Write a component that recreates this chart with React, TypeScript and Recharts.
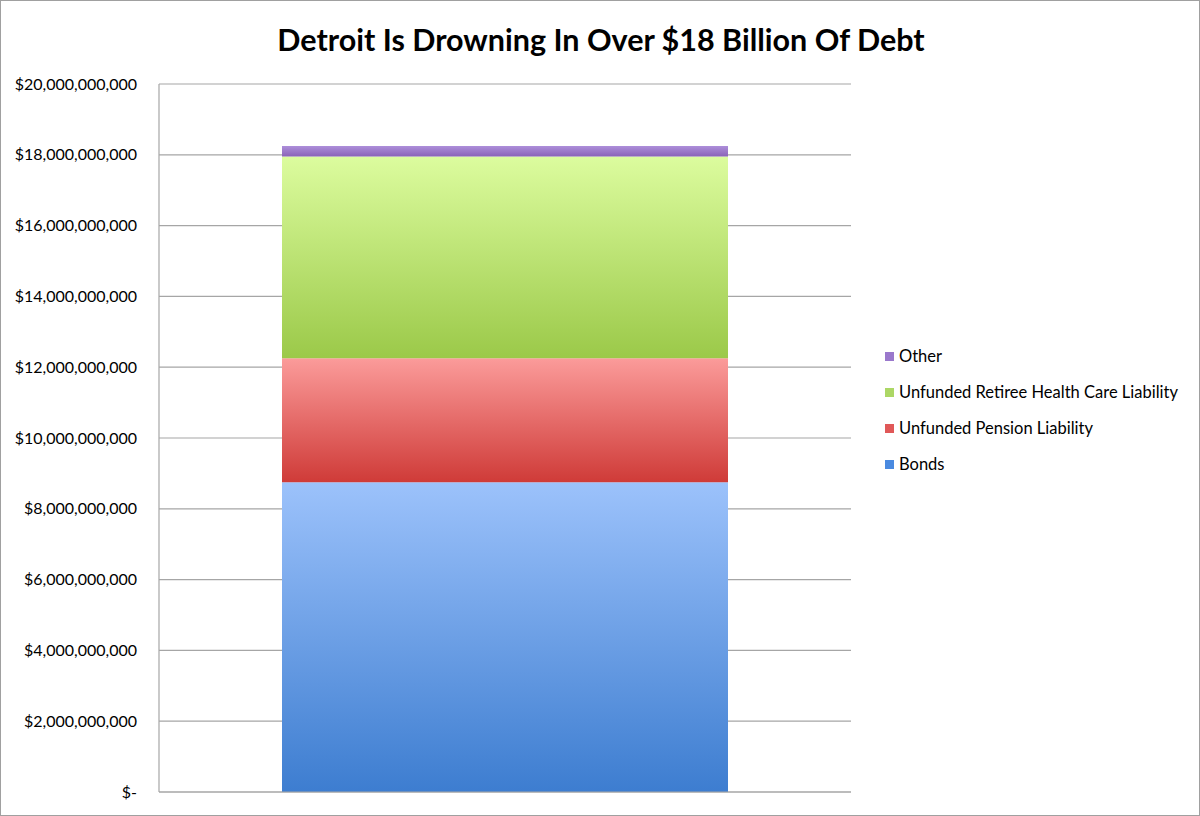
import { BarChart, Bar, XAxis, YAxis, CartesianGrid } from 'recharts';

const categories = ['Detroit'];
const seriesNames = ['Bonds', 'Unfunded Pension Liability', 'Unfunded Retiree Health Care Liability', 'Other'];
const bonds = [8750000000];
const pension = [3500000000];
const healthCare = [5700000000];
const other = [300000000];
const yTicks = [0, 2e9, 4e9, 6e9, 8e9, 10e9, 12e9, 14e9, 16e9, 18e9, 20e9];

const data = categories.map((name, i) => ({
  name,
  bonds: bonds[i],
  pension: pension[i],
  health: healthCare[i],
  other: other[i],
}));

const series = [
  { key: 'bonds', name: seriesNames[0], top: '#9cc2fb', bottom: '#3d7dd0', swatch: '#4a8ae0' },
  { key: 'pension', name: seriesNames[1], top: '#fb9b9a', bottom: '#cf3b38', swatch: '#e05858' },
  { key: 'health', name: seriesNames[2], top: '#dcfc9e', bottom: '#9bc949', swatch: '#acd765' },
  { key: 'other', name: seriesNames[3], top: '#ad8fda', bottom: '#8a62b8', swatch: '#9a78cc' },
];

const font = 'Lato, "Open Sans", sans-serif';

const fmt = (v: number) => (v === 0 ? '$-' : '$' + v.toLocaleString('en-US'));

// legend drawn beside the chart, top item first like the original
const LegendBox = () => (
  <div style={{ position: 'absolute', left: 884, top: 337, fontFamily: font, fontSize: 16.5, color: '#000' }}>
    {[...series].reverse().map((s) => (
      <div key={s.key} style={{ display: 'flex', alignItems: 'center', height: 36 }}>
        <span style={{ width: 9, height: 9, background: s.swatch, marginRight: 5, display: 'inline-block' }} />
        <span>{s.name}</span>
      </div>
    ))}
  </div>
);

export default function App() {
  return (
    <div
      style={{
        position: 'absolute',
        left: 0,
        top: 0,
        width: 1200,
        height: 816,
        border: '1px solid #a0a0a0',
        boxSizing: 'border-box',
        background: '#fff',
      }}
    >
      <div
        style={{
          position: 'absolute',
          left: 0,
          top: 20,
          width: 1200,
          textAlign: 'center',
          fontFamily: font,
          fontWeight: 700,
          fontSize: 30.5,
          color: '#000',
        }}
      >
        Detroit Is Drowning In Over $18 Billion Of Debt
      </div>
      <div style={{ position: 'absolute', left: -1, top: -1 }}>
        <BarChart
          width={1200}
          height={816}
          data={data}
          margin={{ top: 84, right: 349, bottom: 0, left: 0 }}
          barCategoryGap={123}
        >
          <defs>
            {series.map((s) => (
              <linearGradient key={s.key} id={'g-' + s.key} x1="0" y1="0" x2="0" y2="1">
                <stop offset="0%" stopColor={s.top} />
                <stop offset="100%" stopColor={s.bottom} />
              </linearGradient>
            ))}
          </defs>
          <CartesianGrid vertical={false} stroke="#a6a6a6" strokeWidth={1.2} />
          <XAxis dataKey="name" tick={false} tickLine={false} height={24} axisLine={{ stroke: '#a6a6a6', strokeWidth: 1.2 }} />
          <YAxis
            width={159}
            domain={[0, 20e9]}
            ticks={yTicks}
            tickFormatter={fmt}
            tickLine={false}
            tickMargin={16}
            axisLine={{ stroke: '#a6a6a6', strokeWidth: 1.2 }}
            tick={{ fill: '#000', fontSize: 16, fontFamily: font }}
            interval={0}
          />
          {series.map((s) => (
            <Bar
              key={s.key}
              dataKey={s.key}
              name={s.name}
              stackId="debt"
              fill={`url(#g-${s.key})`}
              isAnimationActive={false}
            />
          ))}
        </BarChart>
      </div>
      <LegendBox />
    </div>
  );
}
